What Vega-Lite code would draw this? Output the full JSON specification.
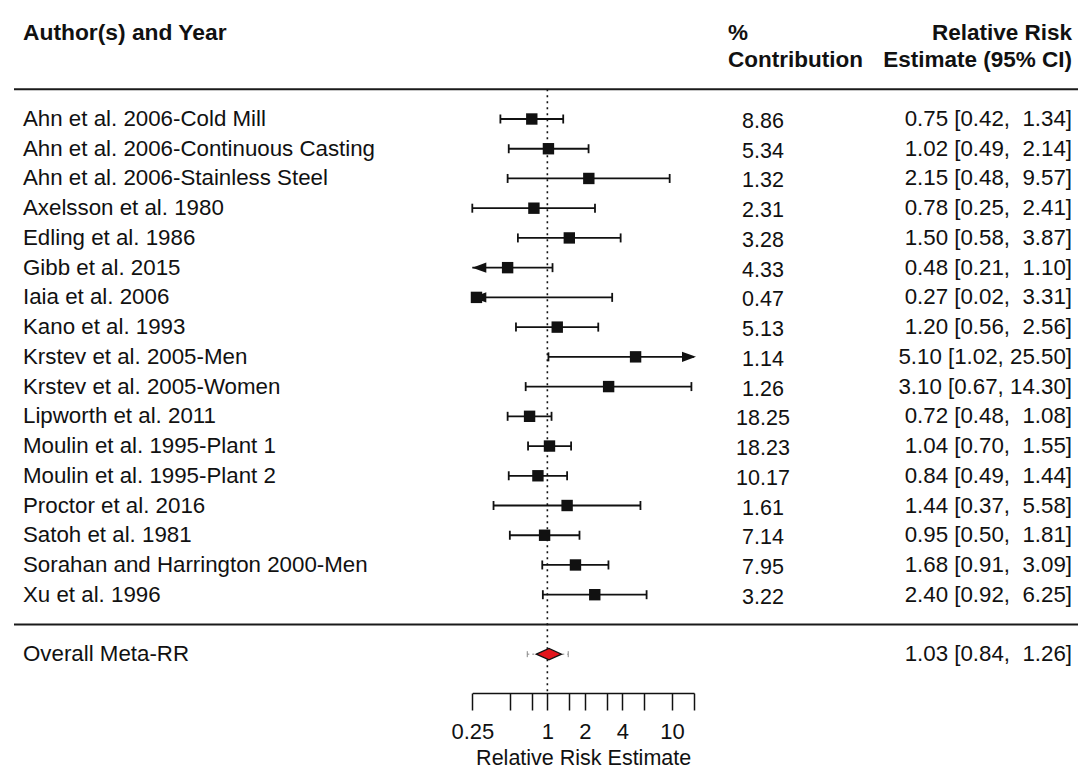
{
  "$schema": "https://vega.github.io/schema/vega-lite/v6.json",
  "width": 1078,
  "height": 693,
  "autosize": {"type": "none"},
  "padding": {"left": 0, "top": 0, "right": 0, "bottom": 77},
  "background": "white",
  "config": {
    "view": {"stroke": null},
    "font": "Liberation Sans",
    "axis": {
      "grid": false,
      "domainColor": "#111111",
      "tickColor": "#111111",
      "labelColor": "#111111",
      "titleColor": "#111111",
      "labelFont": "Liberation Sans",
      "titleFont": "Liberation Sans",
      "labelFontSize": 22,
      "titleFontSize": 21.5,
      "titleFontWeight": "normal",
      "domainWidth": 1.5,
      "tickWidth": 1.5,
      "tickSize": 17,
      "labelFlush": false,
      "labelOverlap": false,
      "labelPadding": 11,
      "titlePadding": 5
    }
  },
  "datasets": {
    "studies": [
      {"row": 0, "study": "Ahn et al. 2006-Cold Mill", "contrib": 8.86, "est": 0.75, "lower": 0.42, "upper": 1.34, "ci": "0.75 [0.42, \u00a01.34]"},
      {"row": 1, "study": "Ahn et al. 2006-Continuous Casting", "contrib": 5.34, "est": 1.02, "lower": 0.49, "upper": 2.14, "ci": "1.02 [0.49, \u00a02.14]"},
      {"row": 2, "study": "Ahn et al. 2006-Stainless Steel", "contrib": 1.32, "est": 2.15, "lower": 0.48, "upper": 9.57, "ci": "2.15 [0.48, \u00a09.57]"},
      {"row": 3, "study": "Axelsson et al. 1980", "contrib": 2.31, "est": 0.78, "lower": 0.25, "upper": 2.41, "ci": "0.78 [0.25, \u00a02.41]"},
      {"row": 4, "study": "Edling et al. 1986", "contrib": 3.28, "est": 1.50, "lower": 0.58, "upper": 3.87, "ci": "1.50 [0.58, \u00a03.87]"},
      {"row": 5, "study": "Gibb et al. 2015", "contrib": 4.33, "est": 0.48, "lower": 0.21, "upper": 1.10, "ci": "0.48 [0.21, \u00a01.10]"},
      {"row": 6, "study": "Iaia et al. 2006", "contrib": 0.47, "est": 0.27, "lower": 0.02, "upper": 3.31, "ci": "0.27 [0.02, \u00a03.31]"},
      {"row": 7, "study": "Kano et al. 1993", "contrib": 5.13, "est": 1.20, "lower": 0.56, "upper": 2.56, "ci": "1.20 [0.56, \u00a02.56]"},
      {"row": 8, "study": "Krstev et al. 2005-Men", "contrib": 1.14, "est": 5.10, "lower": 1.02, "upper": 25.50, "ci": "5.10 [1.02, 25.50]"},
      {"row": 9, "study": "Krstev et al. 2005-Women", "contrib": 1.26, "est": 3.10, "lower": 0.67, "upper": 14.30, "ci": "3.10 [0.67, 14.30]"},
      {"row": 10, "study": "Lipworth et al. 2011", "contrib": 18.25, "est": 0.72, "lower": 0.48, "upper": 1.08, "ci": "0.72 [0.48, \u00a01.08]"},
      {"row": 11, "study": "Moulin et al. 1995-Plant 1", "contrib": 18.23, "est": 1.04, "lower": 0.70, "upper": 1.55, "ci": "1.04 [0.70, \u00a01.55]"},
      {"row": 12, "study": "Moulin et al. 1995-Plant 2", "contrib": 10.17, "est": 0.84, "lower": 0.49, "upper": 1.44, "ci": "0.84 [0.49, \u00a01.44]"},
      {"row": 13, "study": "Proctor et al. 2016", "contrib": 1.61, "est": 1.44, "lower": 0.37, "upper": 5.58, "ci": "1.44 [0.37, \u00a05.58]"},
      {"row": 14, "study": "Satoh et al. 1981", "contrib": 7.14, "est": 0.95, "lower": 0.50, "upper": 1.81, "ci": "0.95 [0.50, \u00a01.81]"},
      {"row": 15, "study": "Sorahan and Harrington 2000-Men", "contrib": 7.95, "est": 1.68, "lower": 0.91, "upper": 3.09, "ci": "1.68 [0.91, \u00a03.09]"},
      {"row": 16, "study": "Xu et al. 1996", "contrib": 3.22, "est": 2.40, "lower": 0.92, "upper": 6.25, "ci": "2.40 [0.92, \u00a06.25]"}
    ],
    "overall": [
      {"row": 18, "study": "Overall Meta-RR", "est": 1.03, "lower": 0.84, "upper": 1.26, "pi_lower": 0.69, "pi_upper": 1.47, "ci": "1.03 [0.84, \u00a01.26]"}
    ],
    "separators": [{"row": -1}, {"row": 17}],
    "refline": [{"ref": 1, "row": -1, "row_end": 19.25}],
    "head_left": [{"row": -2.9, "text": "Author(s) and Year"}],
    "head_mid": [{"row": -2.9, "text": "%"}, {"row": -2, "text": "Contribution"}],
    "head_right": [{"row": -2.9, "text": "Relative Risk"}, {"row": -2, "text": "Estimate (95% CI)"}]
  },
  "encoding": {
    "y": {"field": "row", "type": "quantitative", "scale": {"domain": [0, 16], "range": [119, 594.7], "nice": false, "zero": false}, "axis": null}
  },
  "layer": [
    {
      "data": {"name": "separators"},
      "mark": {"type": "rule", "strokeWidth": 2, "color": "#1a1a1a"},
      "encoding": {"x": {"value": 14}, "x2": {"value": 1078}}
    },
    {
      "data": {"name": "refline"},
      "mark": {"type": "rule", "strokeWidth": 1.6, "color": "#111111", "strokeDash": [2, 4]},
      "encoding": {
        "x": {"field": "ref", "type": "quantitative",
              "scale": {"type": "log", "domain": [0.25, 15], "range": [472.3, 694], "clamp": true, "nice": false, "zero": false},
              "axis": {"values": [0.25, 0.5, 0.75, 1, 1.5, 2, 3, 4, 6, 10, 15],
                       "labelExpr": "indexof([0.25, 1, 2, 4, 10], datum.value) >= 0 ? format(datum.value, '~g') : ''",
                       "title": "Relative Risk Estimate"}},
        "y2": {"field": "row_end"}
      }
    },
    {
      "data": {"name": "studies"},
      "mark": {"type": "rule", "strokeWidth": 1.8, "color": "#111111"},
      "encoding": {
        "x": {"field": "lower", "type": "quantitative", "title": "Relative Risk Estimate"},
        "x2": {"field": "upper"}
      }
    },
    {
      "data": {"name": "studies"},
      "transform": [{"filter": "datum.lower >= 0.25"}],
      "mark": {"type": "rule", "strokeWidth": 1.8, "color": "#111111", "yOffset": -4.5, "y2Offset": 4.5},
      "encoding": {
        "x": {"field": "lower", "type": "quantitative", "title": "Relative Risk Estimate"},
        "y2": {"field": "row"}
      }
    },
    {
      "data": {"name": "studies"},
      "transform": [{"filter": "datum.upper <= 15"}],
      "mark": {"type": "rule", "strokeWidth": 1.8, "color": "#111111", "yOffset": -4.5, "y2Offset": 4.5},
      "encoding": {
        "x": {"field": "upper", "type": "quantitative", "title": "Relative Risk Estimate"},
        "y2": {"field": "row"}
      }
    },
    {
      "data": {"name": "studies"},
      "transform": [{"filter": "datum.lower < 0.25"}],
      "mark": {"type": "point", "shape": "M-1,0L1,-0.72L1,0.72Z", "filled": true, "color": "#111111", "opacity": 1, "size": 196, "xOffset": 7},
      "encoding": {
        "x": {"field": "lower", "type": "quantitative", "title": "Relative Risk Estimate"}
      }
    },
    {
      "data": {"name": "studies"},
      "transform": [{"filter": "datum.upper > 15"}],
      "mark": {"type": "point", "shape": "M1,0L-1,-0.72L-1,0.72Z", "filled": true, "color": "#111111", "opacity": 1, "size": 196, "xOffset": -5},
      "encoding": {
        "x": {"field": "upper", "type": "quantitative", "title": "Relative Risk Estimate"}
      }
    },
    {
      "data": {"name": "studies"},
      "mark": {"type": "point", "shape": "square", "filled": true, "color": "#111111", "opacity": 1, "size": 130},
      "encoding": {
        "x": {"field": "est", "type": "quantitative", "title": "Relative Risk Estimate"}
      }
    },
    {
      "data": {"name": "overall"},
      "mark": {"type": "rule", "strokeWidth": 1, "color": "#888888", "strokeDash": [2, 3]},
      "encoding": {
        "x": {"field": "pi_lower", "type": "quantitative", "title": "Relative Risk Estimate"},
        "x2": {"field": "pi_upper"}
      }
    },
    {
      "data": {"name": "overall"},
      "mark": {"type": "rule", "strokeWidth": 1, "color": "#888888", "yOffset": -3, "y2Offset": 3},
      "encoding": {
        "x": {"field": "pi_lower", "type": "quantitative", "title": "Relative Risk Estimate"},
        "y2": {"field": "row"}
      }
    },
    {
      "data": {"name": "overall"},
      "mark": {"type": "rule", "strokeWidth": 1, "color": "#888888", "yOffset": -3, "y2Offset": 3},
      "encoding": {
        "x": {"field": "pi_upper", "type": "quantitative", "title": "Relative Risk Estimate"},
        "y2": {"field": "row"}
      }
    },
    {
      "data": {"name": "overall"},
      "mark": {"type": "point", "shape": "M-1,0L0,-0.45L1,0L0,0.45Z", "filled": true, "fill": "#e3141c", "stroke": "#111111", "strokeWidth": 1.2, "opacity": 1, "size": 640},
      "encoding": {
        "x": {"field": "est", "type": "quantitative", "title": "Relative Risk Estimate"}
      }
    },
    {
      "data": {"name": "studies"},
      "mark": {"type": "text", "align": "left", "baseline": "middle", "fontSize": 22.3, "color": "#111111", "font": "Liberation Sans"},
      "encoding": {"x": {"value": 23}, "text": {"field": "study"}}
    },
    {
      "data": {"name": "overall"},
      "mark": {"type": "text", "align": "left", "baseline": "middle", "fontSize": 22.3, "color": "#111111", "font": "Liberation Sans"},
      "encoding": {"x": {"value": 23}, "text": {"field": "study"}}
    },
    {
      "data": {"name": "studies"},
      "mark": {"type": "text", "align": "center", "baseline": "middle", "fontSize": 21.5, "dy": 3, "color": "#111111", "font": "Liberation Sans"},
      "encoding": {"x": {"value": 763}, "text": {"field": "contrib", "type": "quantitative", "format": ".2f"}}
    },
    {
      "data": {"name": "studies"},
      "mark": {"type": "text", "align": "right", "baseline": "middle", "fontSize": 22.3, "color": "#111111", "font": "Liberation Sans"},
      "encoding": {"x": {"value": 1072}, "text": {"field": "ci"}}
    },
    {
      "data": {"name": "overall"},
      "mark": {"type": "text", "align": "right", "baseline": "middle", "fontSize": 22.3, "color": "#111111", "font": "Liberation Sans"},
      "encoding": {"x": {"value": 1072}, "text": {"field": "ci"}}
    },
    {
      "data": {"name": "head_left"},
      "mark": {"type": "text", "align": "left", "baseline": "middle", "fontSize": 22.8, "fontWeight": "bold", "color": "#111111", "font": "Liberation Sans"},
      "encoding": {"x": {"value": 23}, "text": {"field": "text"}}
    },
    {
      "data": {"name": "head_mid"},
      "mark": {"type": "text", "align": "left", "baseline": "middle", "fontSize": 22.5, "fontWeight": "bold", "color": "#111111", "font": "Liberation Sans"},
      "encoding": {"x": {"value": 728}, "text": {"field": "text"}}
    },
    {
      "data": {"name": "head_right"},
      "mark": {"type": "text", "align": "right", "baseline": "middle", "fontSize": 22.5, "fontWeight": "bold", "color": "#111111", "font": "Liberation Sans"},
      "encoding": {"x": {"value": 1072}, "text": {"field": "text"}}
    }
  ]
}
